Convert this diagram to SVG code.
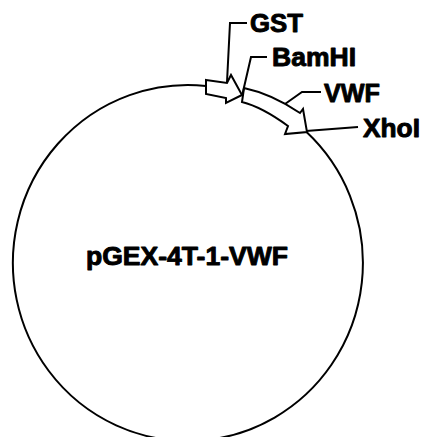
<svg xmlns="http://www.w3.org/2000/svg" width="422" height="437" viewBox="0 0 422 437">
<style>
.lbl{font-family:"Liberation Sans",Arial,sans-serif;font-weight:bold;font-size:25px;fill:#000;stroke:#000;stroke-width:0.9;stroke-linejoin:round}
.ln{fill:none;stroke:#000;stroke-width:2;stroke-linejoin:miter}
.feat{fill:#fff;stroke:#000;stroke-width:2;stroke-linejoin:miter}
</style>
<rect width="422" height="437" fill="#fff"/>
<g id="plasmid">
<path class="ln" d="M 306 131.6 A 175 178 0 1 1 206 85.9"/>
<text class="lbl" x="86" y="265" font-size="26" textLength="202" lengthAdjust="spacingAndGlyphs">pGEX-4T-1-VWF</text>
</g>
<g id="GST">
<path class="feat" d="M 206 80 L 227 83 L 231 75 L 242 95 L 226 103 L 226 98 L 206 94 Z"/>
<text class="lbl" x="250" y="32" textLength="53" lengthAdjust="spacingAndGlyphs">GST</text>
</g>
<g id="VWF">
<path class="feat" d="M 244 88 Q 272 94 300 113 L 303 109 L 307 132 L 285 134 L 288 126 Q 262 107 242 102 Z"/>
<text class="lbl" x="324" y="102" textLength="56" lengthAdjust="spacingAndGlyphs">VWF</text>
</g>
<g id="BamHI">
<text class="lbl" x="272" y="66" textLength="84" lengthAdjust="spacingAndGlyphs">BamHI</text>
</g>
<g id="XhoI">
<text class="lbl" x="363" y="137" textLength="57" lengthAdjust="spacingAndGlyphs">XhoI</text>
</g>
<g id="connectors">
<polyline class="ln" points="247,23 230,23 227,82"/>
<polyline class="ln" points="267,57 251,57 242,96"/>
<polyline class="ln" points="285,104 302,92 321,92"/>
<polyline class="ln" points="306,131 358,127"/>
</g>
</svg>
